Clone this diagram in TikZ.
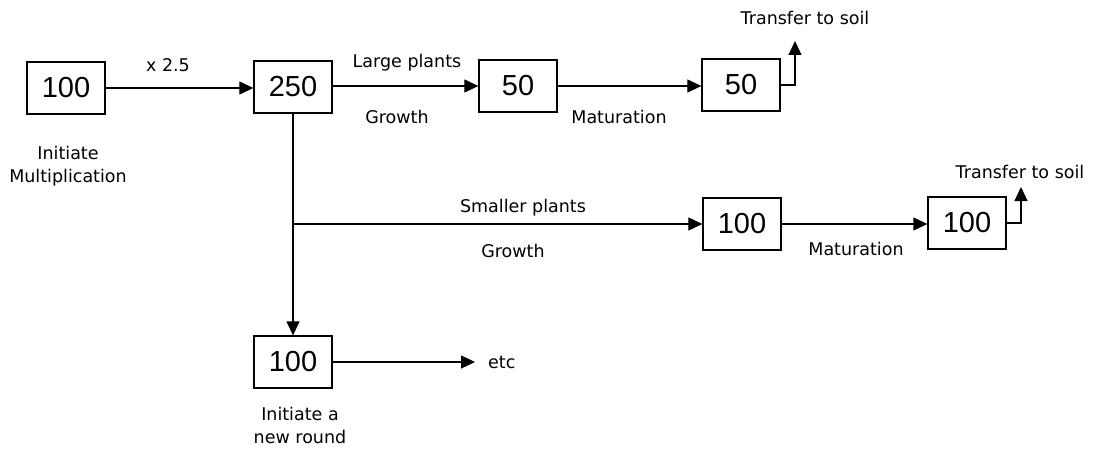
\documentclass[tikz,border=0pt]{standalone}
\usepackage{fontspec}
\setmainfont{DejaVu Sans}
\newfontfamily\numfont{Liberation Sans}
\usetikzlibrary{arrows.meta}
\begin{document}
\begin{tikzpicture}[x=1pt,y=-1pt,
  box/.style={draw,line width=1.3pt,minimum width=78pt,minimum height=52pt,inner sep=0pt,font=\numfont\fontsize{29}{29}\selectfont},
  lbl/.style={inner sep=0pt,font=\fontsize{17.5}{23}\selectfont,align=center},
  flow/.style={line width=1.2pt,-{Triangle[length=14pt,width=13pt]}},
  plain/.style={line width=1.2pt}]
\useasboundingbox (0,0) rectangle (1094,457);
% boxes
\node[box] (start) at (66,88) {100};
\node[box] (mult) at (293,87) {250};
\node[box] (large1) at (518,86) {50};
\node[box] (large2) at (741,85) {50};
\node[box] (small1) at (742,224) {100};
\node[box] (small2) at (967,223) {100};
\node[box] (round) at (293,362) {100};
% labels
\node[lbl] at (168,65) {x 2.5};
\node[lbl] at (68,166) {Initiate\\Multiplication};
\node[lbl] at (407,63) {Large plants};
\node[lbl] at (397,117) {Growth};
\node[lbl] at (619,117) {Maturation};
\node[lbl] (soil1) at (805,18) {Transfer to soil};
\node[lbl] at (523,208) {Smaller plants};
\node[lbl] at (513,251) {Growth};
\node[lbl] at (856,249) {Maturation};
\node[lbl] (soil2) at (1020,172) {Transfer to soil};
\node[lbl,anchor=west] (etc) at (488,362) {etc};
\node[lbl] at (300,425) {Initiate a\\new round};
% connectors
\coordinate (branch) at (mult.south |- small1.west);
\coordinate (out1) at (795,41);
\coordinate (out2) at (1021,187);
\draw[flow] (start.east) -- (mult.west |- start.east);
\draw[flow] (mult.east |- large1.west) -- (large1.west);
\draw[flow] (large1.east) -- (large2.west |- large1.east);
\draw[flow] (large2.east) -| (out1);
\draw[flow] (mult.south) -- (round.north);
\draw[flow] (branch) -- (small1.west);
\draw[flow] (small1.east) -- (small2.west |- small1.east);
\draw[flow] (small2.east) -| (out2);
\draw[flow,shorten >=13pt] (round.east) -- (etc.west);
\end{tikzpicture}
\end{document}
